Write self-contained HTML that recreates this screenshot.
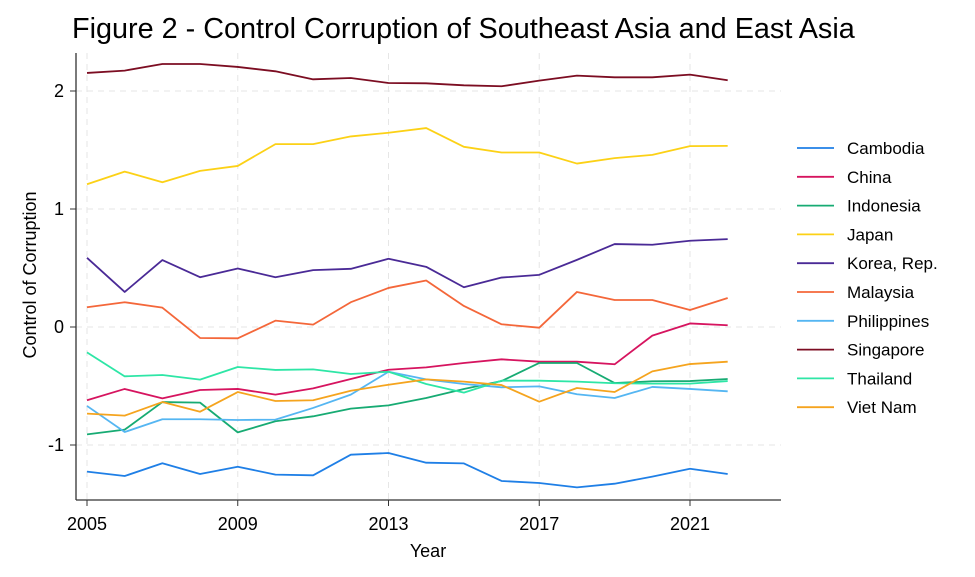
<!DOCTYPE html>
<html><head><meta charset="utf-8"><style>
body{margin:0;background:#fff;font-family:"Liberation Sans",Arial,sans-serif}
svg text{font-family:"Liberation Sans",Arial,sans-serif}
</style></head><body>
<svg id="c" width="975" height="572" viewBox="0 0 975 572">
<text x="72" y="38" font-size="28.8" fill="#000">Figure 2 - Control Corruption of Southeast Asia and East Asia</text>
<g id="grid"></g><g id="axes"></g><g id="lines"></g><g id="legend"></g>
<text x="428" y="557" font-size="18" text-anchor="middle">Year</text>
<text transform="translate(36,275) rotate(-90)" font-size="18" text-anchor="middle">Control of Corruption</text>
</svg>
<script>
const years=[2005,2006,2007,2008,2009,2010,2011,2012,2013,2014,2015,2016,2017,2018,2019,2020,2021,2022];
const countries=["Cambodia","China","Indonesia","Japan","Korea, Rep.","Malaysia","Philippines","Singapore","Thailand","Viet Nam"];
const colors=["#1f7fe6","#d6145f","#17ab73","#fcd116","#4a2a96","#f4673a","#55b6f2","#7c0d22","#2ee6a6","#f5a41e"];
const cambodia=[-1.226,-1.263,-1.155,-1.246,-1.184,-1.251,-1.257,-1.082,-1.068,-1.150,-1.156,-1.305,-1.322,-1.359,-1.328,-1.268,-1.201,-1.246];
const china=[-0.621,-0.525,-0.605,-0.534,-0.525,-0.573,-0.520,-0.441,-0.362,-0.342,-0.305,-0.274,-0.294,-0.294,-0.316,-0.073,0.030,0.015];
const indonesia=[-0.910,-0.870,-0.636,-0.641,-0.893,-0.799,-0.757,-0.692,-0.664,-0.602,-0.525,-0.458,-0.305,-0.305,-0.475,-0.460,-0.458,-0.441];
const japan=[1.210,1.317,1.227,1.323,1.365,1.550,1.550,1.615,1.646,1.686,1.527,1.479,1.479,1.385,1.431,1.459,1.533,1.535];
const korea=[0.586,0.297,0.567,0.422,0.496,0.422,0.482,0.493,0.578,0.510,0.337,0.419,0.442,0.569,0.703,0.697,0.731,0.745];
const malaysia=[0.167,0.210,0.164,-0.093,-0.096,0.054,0.020,0.210,0.331,0.394,0.178,0.023,-0.006,0.297,0.229,0.229,0.144,0.246];
const philippines=[-0.669,-0.890,-0.782,-0.782,-0.788,-0.785,-0.686,-0.573,-0.379,-0.444,-0.483,-0.511,-0.503,-0.570,-0.602,-0.508,-0.525,-0.545];
const singapore=[2.153,2.173,2.229,2.229,2.204,2.167,2.099,2.110,2.068,2.065,2.048,2.040,2.088,2.130,2.116,2.116,2.139,2.091];
const thailand=[-0.215,-0.418,-0.407,-0.446,-0.339,-0.364,-0.359,-0.398,-0.379,-0.483,-0.556,-0.455,-0.455,-0.463,-0.477,-0.480,-0.480,-0.458];
const vietnam=[-0.734,-0.751,-0.636,-0.718,-0.551,-0.627,-0.621,-0.540,-0.489,-0.444,-0.463,-0.492,-0.633,-0.517,-0.551,-0.376,-0.314,-0.294];
const series=[cambodia,china,indonesia,japan,korea,malaysia,philippines,singapore,thailand,vietnam];
const xTicks=[2005,2009,2013,2017,2021];
const yTicks=[-1,0,1,2];
const ns="http://www.w3.org/2000/svg";
function X(v){return 87+(v-2005)*(690-87)/16;}
function Y(v){return 327-v*118;}
function mk(t,a,p){const e=document.createElementNS(ns,t);for(const k in a)e.setAttribute(k,a[k]);p.appendChild(e);return e;}
const grid=document.getElementById('grid'),axes=document.getElementById('axes'),lines=document.getElementById('lines'),legend=document.getElementById('legend');
const L=76,R=781,T=53,B=500;
yTicks.forEach(v=>{
 const g=mk('line',{x1:L,x2:R,y1:Y(v),y2:Y(v),stroke:'#e6e6e6','stroke-dasharray':'6,5'},grid);
 
 
 const t=mk('line',{x1:L-6,x2:L,y1:Y(v),y2:Y(v),stroke:'#333'},axes);
 
 
 const s=mk('text',{x:L-12,y:Y(v)+6,'font-size':18,'text-anchor':'end'},axes);s.textContent=v;
 
 
});
xTicks.forEach(v=>{
 const g=mk('line',{x1:X(v),x2:X(v),y1:T,y2:B,stroke:'#e6e6e6','stroke-dasharray':'6,5'},grid);
 
 
 const t=mk('line',{x1:X(v),x2:X(v),y1:B,y2:B+6,stroke:'#333'},axes);
 
 
 const s=mk('text',{x:X(v),y:B+30,'font-size':18,'text-anchor':'middle'},axes);s.textContent=v;
 
 
});
const ya=mk('line',{x1:L,x2:L,y1:T,y2:B,stroke:'#333','stroke-width':1.3},axes);


const xa=mk('line',{x1:L,x2:R,y1:B,y2:B,stroke:'#333','stroke-width':1.3},axes);


series.forEach((s,i)=>{
 const p=mk('polyline',{points:s.map((v,j)=>X(years[j])+','+Y(v)).join(' '),fill:'none',stroke:colors[i],'stroke-width':1.8,'stroke-linejoin':'round'},lines);
 
 
 const y=148+i*28.8;
 const g=mk('g',{},legend);
 
 
 mk('line',{x1:797,x2:834,y1:y,y2:y,stroke:colors[i],'stroke-width':1.8},g);
 const t=mk('text',{x:847,y:y+6,'font-size':17},g);t.textContent=countries[i];
});
</script>
</body></html>
